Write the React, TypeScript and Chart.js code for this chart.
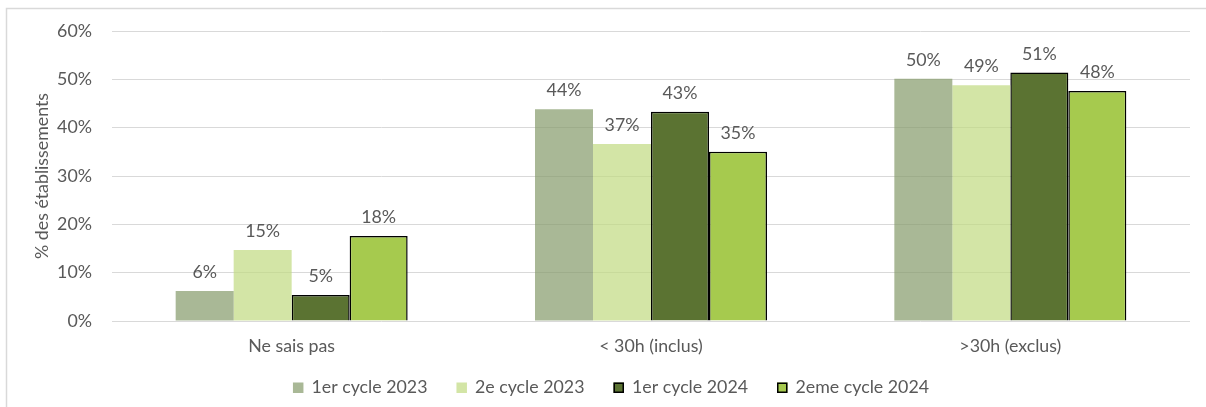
import React, { useEffect, useRef } from 'react';
import { Chart, registerables } from 'chart.js';
Chart.register(...registerables);

const categories = ['Ne sais pas', '< 30h (inclus)', '>30h (exclus)'];
const seriesNames = ['1er cycle 2023', '2e cycle 2023', '1er cycle 2024', '2eme cycle 2024'];
const cycle1_2023 = [6.2, 43.8, 50.1];
const cycle2_2023 = [14.7, 36.6, 48.8];
const cycle1_2024 = [5.4, 43.3, 51.4];
const cycle2_2024 = [17.6, 35.0, 47.6];
const yMin = 0;
const yMax = 60;
const yStep = 10;
const yTitle = '% des établissements';

const FONT = 'Lato, "Open Sans", sans-serif';
const FS = 17.8;
const TEXT = '#595959';

const fills = ['rgba(132,154,105,0.7)', 'rgba(192,218,128,0.7)', '#5b7332', '#a6ca4e'];
const borders = ['rgba(0,0,0,0)', 'rgba(0,0,0,0)', '#000000', '#000000'];
const borderWidths = [0, 0, 1.5, 1.5];

const frame = {
  id: 'frame',
  beforeDraw(chart: any) {
    const { ctx, width, height } = chart;
    ctx.save();
    ctx.fillStyle = '#ffffff';
    ctx.fillRect(0, 0, width, height);
    ctx.strokeStyle = '#d9d9d9';
    ctx.lineWidth = 1.5;
    ctx.beginPath();
    ctx.moveTo(6.5, height);
    ctx.lineTo(6.5, 8.5);
    ctx.lineTo(width, 8.5);
    ctx.stroke();
    ctx.restore();
  },
};

const valueLabels = {
  id: 'valueLabels',
  afterDatasetsDraw(chart: any) {
    const { ctx } = chart;
    ctx.save();
    ctx.font = `${FS}px ${FONT}`;
    ctx.fillStyle = TEXT;
    ctx.textAlign = 'center';
    ctx.textBaseline = 'alphabetic';
    chart.data.datasets.forEach((ds: any, i: number) => {
      const meta = chart.getDatasetMeta(i);
      meta.data.forEach((el: any, j: number) => {
        ctx.fillText(Math.round(ds.data[j]) + '%', el.x, el.y - 13);
      });
    });
    ctx.restore();
  },
};

const customLegend = {
  id: 'customLegend',
  afterDraw(chart: any) {
    const { ctx } = chart;
    ctx.save();
    ctx.font = `${FS}px ${FONT}`;
    const box = 10.5;
    const gapText = 8;
    const gapItem = 29;
    const items = chart.data.datasets.map((ds: any) => ({
      ds,
      w: ctx.measureText(ds.label).width,
    }));
    const total = items.reduce((s: number, it: any) => s + box + gapText + it.w, 0) + gapItem * (items.length - 1);
    let x = 611 - total / 2;
    const baseline = 393;
    items.forEach((it: any) => {
      ctx.fillStyle = it.ds.backgroundColor;
      ctx.fillRect(x, baseline - box, box, box);
      if (it.ds.borderWidth > 0) {
        ctx.strokeStyle = '#000';
        ctx.lineWidth = 1.5;
        ctx.strokeRect(x + 0.75, baseline - box + 0.75, box - 1.5, box - 1.5);
      }
      ctx.fillStyle = TEXT;
      ctx.textAlign = 'left';
      ctx.textBaseline = 'alphabetic';
      ctx.fillText(it.ds.label, x + box + gapText, baseline);
      x += box + gapText + it.w + gapItem;
    });
    ctx.restore();
  },
};

export default function App() {
  const ref = useRef<HTMLCanvasElement>(null);
  useEffect(() => {
    if (!ref.current) return;
    const series = [cycle1_2023, cycle2_2023, cycle1_2024, cycle2_2024];
    const chart = new Chart(ref.current, {
      type: 'bar',
      data: {
        labels: categories,
        datasets: series.map((d, i) => ({
          label: seriesNames[i],
          data: d,
          backgroundColor: fills[i],
          borderColor: borders[i],
          borderWidth: borderWidths[i],
          categoryPercentage: 0.6456,
          barPercentage: 1,
        })),
      },
      options: {
        responsive: false,
        animation: false,
        layout: { padding: { left: 0, right: 16, top: 31, bottom: 46 } },
        plugins: {
          legend: { display: false },
          tooltip: { enabled: false },
        },
        scales: {
          x: {
            grid: { display: false, drawTicks: false },
            border: { display: false },
            ticks: { color: TEXT, font: { family: FONT, size: FS }, padding: 15 },
            afterFit(scale: any) { scale.height = 40; },
          },
          y: {
            min: yMin,
            max: yMax,
            grid: { color: '#d9d9d9', lineWidth: 1, drawTicks: false },
            border: { display: false },
            ticks: {
              stepSize: yStep,
              color: TEXT,
              font: { family: FONT, size: FS },
              padding: 20,
              callback: (v: any) => v + '%',
            },
            title: {
              display: true,
              text: yTitle,
              color: TEXT,
              font: { family: FONT, size: FS },
              padding: { top: 32, bottom: 0 },
            },
            afterFit(scale: any) { scale.width = 112; },
          },
        },
      },
      plugins: [frame, valueLabels, customLegend],
    });
    return () => chart.destroy();
  }, []);
  return (
    <div style={{ position: 'fixed', left: 0, top: 0, width: 1206, height: 407 }}>
      <canvas ref={ref} width={1206} height={407} style={{ display: 'block' }} />
    </div>
  );
}
